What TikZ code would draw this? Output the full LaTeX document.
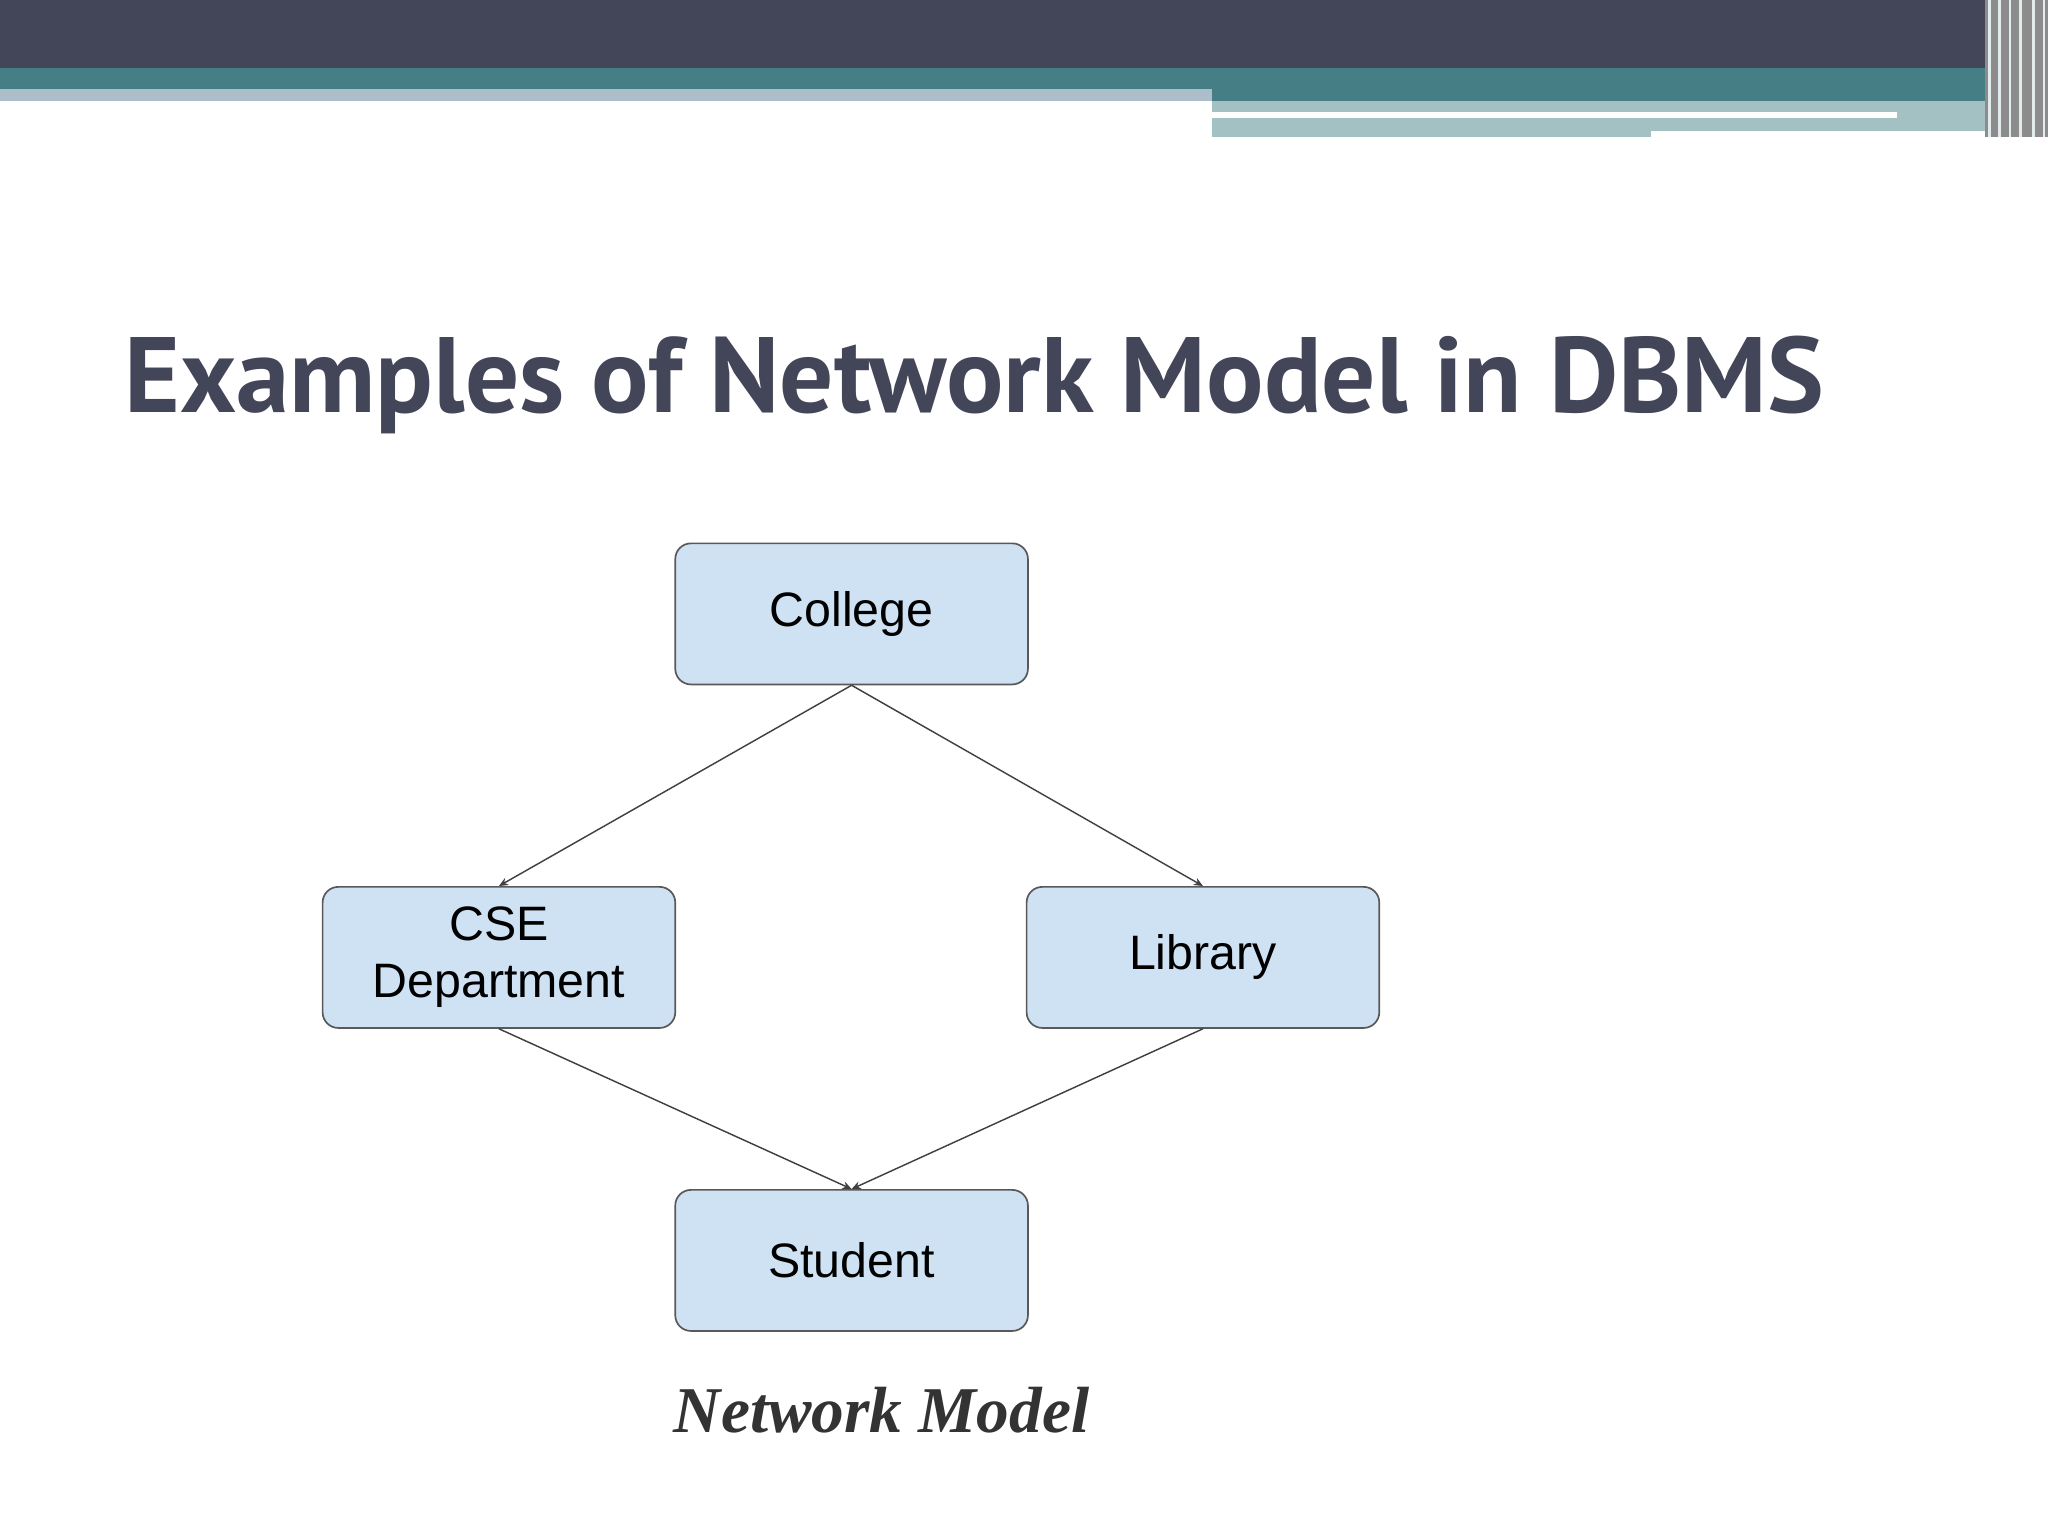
\documentclass[tikz,border=0pt]{standalone}
\usepackage{fontspec}
\setmainfont{Liberation Sans}
\newfontfamily\titlefont{PT Sans}
\newfontfamily\capfont{Liberation Serif}
\usetikzlibrary{arrows.meta}
\definecolor{dark}{HTML}{434558}
\definecolor{teal}{HTML}{467E85}
\definecolor{lteal}{HTML}{A3C1C3}
\definecolor{lgray}{HTML}{AEBDCA}
\definecolor{boxfill}{HTML}{CFE2F3}
\tikzset{
  box/.style={draw=black!65,line width=1.3pt,fill=boxfill,rounded corners=12pt,minimum width=270pt,minimum height=108pt,align=center,font=\fontsize{37}{44}\selectfont,inner sep=0pt},
  conn/.style={draw=black!75,line width=1.1pt,-{Stealth[length=7pt,width=6pt]}}
}
\begin{document}
\begin{tikzpicture}[x=1pt,y=-1pt]
\useasboundingbox (0,0) rectangle (1568,1176);
\fill[white] (0,0) rectangle (1568,1176);
% header bars
\fill[dark] (0,0) rectangle (1568,52);
\fill[teal] (0,52) rectangle (1568,68);
\fill[lgray] (0,68) rectangle (928,77);
\fill[teal] (928,68) rectangle (1568,77);
\fill[lteal] (928,77) rectangle (1540,105);
\fill[white] (928,86) rectangle (1452,90);
\fill[white] (1264,100) rectangle (1540,105);
\fill[black!45] (1520,0) rectangle (1568,105);
\foreach \xx in {1522,1530,1538,1546,1556,1564}
  \fill[white!70!lteal] (\xx,0) rectangle (\xx+2,105);
% title
\node[anchor=base west,text=dark,inner sep=0pt,font=\titlefont\bfseries\fontsize{82}{90}\selectfont] (title) at (95,316) {Examples of Network Model in DBMS};
% nodes
\node[box] (college) at (652,470) {College};
\node[box] (cse) at (382,733) {CSE\\Department};
\node[box] (lib) at (921,733) {Library};
\node[box] (stu) at (652,965) {Student};
\node[font=\capfont\bfseries\itshape\fontsize{50}{56}\selectfont,text=black!80] (cap) at (675,1080) {Network Model};
% connectors
\draw[conn] (college.south) -- (cse.north);
\draw[conn] (college.south) -- (lib.north);
\draw[conn] (cse.south) -- (stu.north);
\draw[conn] (lib.south) -- (stu.north);
\end{tikzpicture}
\end{document}
